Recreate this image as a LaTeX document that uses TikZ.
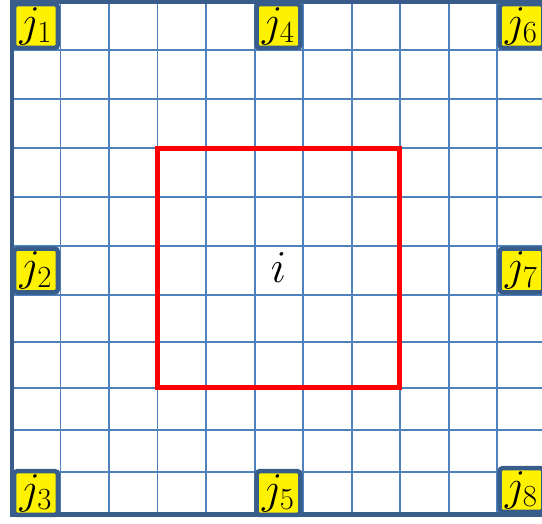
\documentclass[tikz,border=0pt]{standalone}
\usepackage{fix-cm}
\usepackage{xcolor}
\usepackage{tikz}
\usetikzlibrary{positioning}

\definecolor{gridblue}{RGB}{79,129,189}
\definecolor{frameblue}{RGB}{56,93,138}

\begin{document}
\begin{tikzpicture}[
    x=0.02cm, y=-0.02cm,
    gridline/.style={draw=gridblue,line width=0.04cm},
    frame/.style={draw=frameblue,line width=0.1cm},
    site/.style={draw=frameblue,line width=0.09cm,fill=yellow,rounded corners=2pt,
      minimum size=0.88cm,inner sep=0pt,font=\fontsize{25}{25}\selectfont},
    target/.style={draw=red,line width=0.1cm,minimum width=4.86cm,minimum height=4.8cm,
      inner sep=0pt,font=\fontsize{26}{26}\selectfont}
  ]
    \useasboundingbox (0,0) rectangle (542,524);
    \clip (0,0) rectangle (542,524);
    \foreach \gx in {12,60.5,...,546}
      \draw[gridline] (\gx,2) -- (\gx,514);
    \foreach \gy in {2,50,99,148,197,246,295,342,388,430,472,514}
      \draw[gridline] (12,\gy) -- (545.5,\gy);
    \draw[frame] (12,2) rectangle (545.5,514);

    \node[target] (i) at (278.5,268) {$i$};

    \node[site] (j1) at (36,26) {$j_1$};
    \node[site] (j4) at (278.5,26) {$j_4$};
    \node[site] (j6) at (521.5,26) {$j_6$};
    \node[site] (j2) at (36,270.5) {$j_2$};
    \node[site] (j7) at (521.5,270.5) {$j_7$};
    \node[site] (j3) at (36,493) {$j_3$};
    \node[site] (j5) at (278.5,493) {$j_5$};
    \node[site] (j8) at (521.5,490) {$j_8$};
  \end{tikzpicture}
\end{document}
